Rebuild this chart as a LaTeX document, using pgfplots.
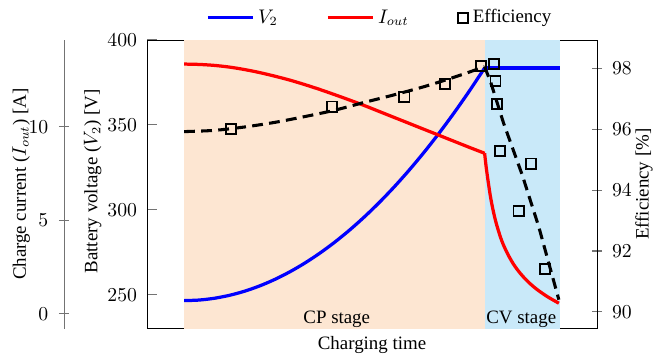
\documentclass[border=0pt]{standalone}
\usepackage{pgfplots}
\pgfplotsset{compat=1.18}
\usepackage{fontspec}
\setmainfont{Liberation Serif}
\definecolor{cpfill}{HTML}{FDE6D2}
\definecolor{cvfill}{HTML}{C9E9F9}
\begin{document}
\fontsize{10.5}{12.6}\selectfont
\begin{tikzpicture}[font=\fontsize{10.5}{12.6}\selectfont]
\pgfplotsset{
  common/.style={
    scale only axis, width=250pt, height=160.4pt,
    xmin=-12.32, xmax=137.4,
    tick align=inside,
    major tick length=5.8pt,
    tick style={black!55, semithick},
    every axis label/.append style={inner sep=0pt},
  },
  lineleg/.style={legend image code/.code={\draw[##1] (0pt,0pt) -- (25pt,0pt);}},
}
% ---------------- main axis: battery voltage ----------------
\begin{axis}[common, name=main,
  ymin=230, ymax=400,
  ytick={250,300,350,400},
  xtick=\empty,
  ytick pos=left,
  axis line style={black},
  yticklabel style={xshift=-1.9pt},
  ylabel={Battery voltage ($V_2$) [V]},
  ylabel style={at={(axis description cs:-0.121,0.51)}, anchor=center},
  xlabel={Charging time},
  xlabel style={at={(axis description cs:0.5,0)}, anchor=north, yshift=-4.3pt},
  legend style={at={(axis description cs:0.519,1.077)}, anchor=center,
    draw=none, fill=none, inner ysep=0pt, legend columns=3,
    /tikz/every even column/.append style={column sep=25pt}},
]
\addplot[draw=none, fill=cpfill, forget plot] coordinates {(0,230) (0,400) (100,400) (100,230)} -- cycle;
\addplot[draw=none, fill=cvfill, forget plot] coordinates {(100,230) (100,400) (125,400) (125,230)} -- cycle;
\addplot[blue, line width=1.8pt, smooth, lineleg] coordinates {
 (0,246.50) (5,246.84) (10,247.87) (15,249.58) (20,251.98) (25,255.06)
 (30,258.83) (35,263.28) (40,268.42) (45,274.24) (50,280.75) (55,287.94)
 (60,295.82) (65,304.38) (70,313.63) (75,323.56) (80,334.18) (85,345.48)
 (90,357.47) (95,370.14) (100,383.50)};
\addlegendentry{$V_2$}
\addplot[blue, line width=1.8pt, forget plot] coordinates {(100,383.5) (125,383.5)};
\addlegendimage{red, line width=1.8pt, lineleg}
\addlegendentry{$I_{out}$}
\addlegendimage{legend image code/.code={\draw[black, line width=1pt] (0pt,-2.8pt) rectangle (5.6pt,2.8pt);}}
\addlegendentry{Efficiency}
\node at (axis cs:50.8,235.5) {CP stage};
\node at (axis cs:112.2,235.5) {CV stage};
\end{axis}
% ---------------- current data (hidden axis) ----------------
\begin{axis}[common, ymin=-0.8, ymax=14.64, hide x axis, hide y axis]
\addplot[red, line width=1.8pt, smooth] coordinates {
 (0,13.35) (5,13.33) (10,13.28) (15,13.19) (20,13.06) (25,12.90)
 (30,12.71) (35,12.50) (40,12.26) (45,12.00) (50,11.72) (55,11.43)
 (60,11.13) (65,10.81) (70,10.49) (75,10.17) (80,9.85) (85,9.53)
 (90,9.21) (95,8.89) (100,8.58)};
\addplot[red, line width=1.8pt, smooth] coordinates {
 (100,8.58) (100.4,8.0) (100.8,7.5) (101.9,6.3) (103,5.4) (104.1,4.7)
 (105.7,3.9) (107.5,3.25) (109.6,2.65) (111.9,2.15) (114.5,1.7)
 (117.4,1.3) (121,0.9) (124.7,0.56)};
\end{axis}
% ---------------- current axis display (offset) ----------------
\begin{axis}[common, at={(-46.1pt,0pt)}, ymin=-0.8, ymax=14.64,
  hide x axis, axis y line=left, ytick={0,5,10},
  y axis line style={-, black!55, semithick},
  yticklabel style={xshift=-2.2pt},
  ylabel={Charge current ($I_{out}$) [A]},
  ylabel style={at={(axis description cs:-0.0956,0.5)}, anchor=center},
]
\addplot[draw=none] coordinates {(0,0)};
\end{axis}
% ---------------- efficiency axis ----------------
\begin{axis}[common, ymin=89.45, ymax=98.93, hide x axis, axis y line=right,
  ytick={90,92,94,96,98},
  y axis line style={-, black},
  yticklabel style={xshift=1.8pt},
  ylabel={Efficiency [\%]},
  ylabel style={at={(axis description cs:1.1044,0.5)}, anchor=center},
]
\addplot[black, line width=1.7pt, dash pattern=on 6pt off 3.5pt, smooth] coordinates {
 (0,95.92) (10,95.96) (20,96.07) (30,96.22) (40,96.41) (50,96.62)
 (60,96.88) (70,97.13) (80,97.40) (90,97.71) (100,98.05)};
\addplot[black, line width=1.7pt, dash pattern=on 6pt off 3.5pt] coordinates {
 (100,98.05) (102,97.55) (106.3,96.2) (112.5,94.5) (118,92.8) (124.7,90.4)};
\addplot[black, only marks, mark=square, mark size=2.8pt, mark options={line width=1pt}] coordinates {
 (15.65,96.0) (49.2,96.74) (73.3,97.05) (86.9,97.48) (98.8,98.08)
 (103.2,98.14) (103.6,97.59) (104.1,96.83) (105.0,95.29) (115.4,94.87)
 (111.3,93.32) (120.2,91.42)};
\end{axis}
\path ([xshift=-81.7pt,yshift=-14.1pt]main.south west) rectangle ([xshift=36.1pt,yshift=22.2pt]main.north east);
\end{tikzpicture}
\end{document}
